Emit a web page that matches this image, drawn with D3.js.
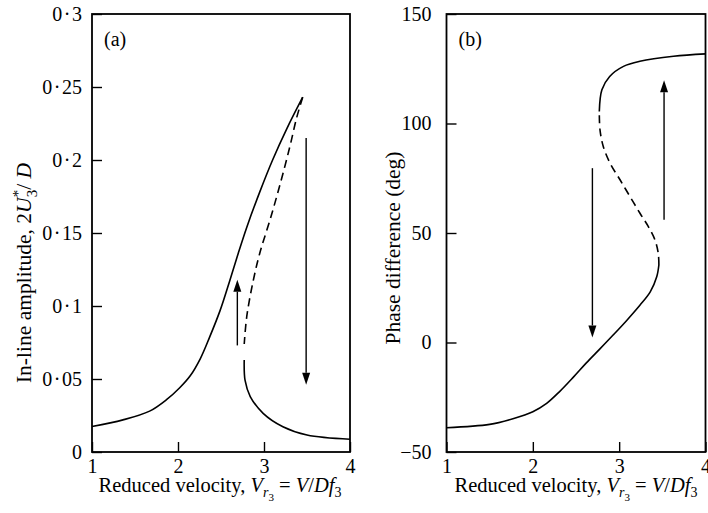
<!DOCTYPE html>
<html>
<head>
<meta charset="utf-8">
<script src="https://cdn.jsdelivr.net/npm/d3@7"></script>
<style>
  body { margin: 0; background: #fff; }
  svg { display: block; }
</style>
</head>
<body>
<script>
const width = 708;
const height = 513;
const fontFamily = "'Liberation Serif', 'Times New Roman', serif";

// x axis shared by both panels
const xTicks = [1, 2, 3, 4];
const xTickLabels = ["1", "2", "3", "4"];

// (a) in-line amplitude
const ampTicks = [0, 0.05, 0.1, 0.15, 0.2, 0.25, 0.3];
const ampTickLabels = ["0", "0·05", "0·1", "0·15", "0·2", "0·25", "0·3"];
const ampUpper = [[1.0, 0.0175], [1.36, 0.022], [1.67, 0.028], [1.87, 0.036], [2.02, 0.044],
  [2.14, 0.052], [2.26, 0.064], [2.37, 0.079], [2.49, 0.097], [2.6, 0.117], [2.7, 0.136],
  [2.8, 0.154], [2.95, 0.178], [3.1, 0.2], [3.27, 0.222], [3.45, 0.243]];
const ampUnstable = [[3.45, 0.243], [3.38, 0.229], [3.3, 0.209], [3.19, 0.184], [3.07, 0.159],
  [2.95, 0.136], [2.87, 0.116], [2.8, 0.093], [2.77, 0.074]];
const ampLower = [[2.77, 0.063], [2.78, 0.049], [2.84, 0.038], [2.99, 0.0265], [3.22, 0.0173],
  [3.5, 0.0116], [4.0, 0.0087]];
const ampArrows = [{ x: 2.69, from: 0.073, to: 0.118 }, { x: 3.49, from: 0.215, to: 0.046 }];

// (b) phase difference
const phaseTicks = [-50, 0, 50, 100, 150];
const phaseTickLabels = ["\u221250", "0", "50", "100", "150"];
const phaseLower = [[1.0, -38.9], [1.5, -37.4], [1.77, -34.8], [2.0, -31.6], [2.16, -27.8],
  [2.31, -22.4], [2.47, -15.8], [2.62, -9.3], [2.78, -2.8], [2.93, 3.4], [3.09, 10.2],
  [3.24, 17.0], [3.36, 23.1], [3.435, 30.0], [3.46, 35.4]];
const phaseUnstable = [[3.46, 35.4], [3.453, 40.7], [3.415, 46.8], [3.338, 52.9], [3.241, 59.0],
  [3.126, 66.6], [3.01, 74.3], [2.894, 81.9], [2.816, 89.5], [2.778, 97.1], [2.77, 104.8]];
const phaseUpper = [[2.77, 105.5], [2.8, 115.4], [2.89, 121.5], [3.05, 126.1], [3.24, 128.4],
  [3.63, 130.7], [4.0, 131.8]];
const phaseArrows = [{ x: 2.69, from: 79.6, to: 2.3 }, { x: 3.52, from: 56, to: 119.7 }];

const svg = d3.select("body").append("svg")
  .attr("width", width)
  .attr("height", height)
  .style("font-family", fontFamily);

function drawPanel(p) {
  const x = d3.scaleLinear().domain([1, 4]).range([p.left, p.right]);
  const y = d3.scaleLinear().domain(p.yDomain).range([p.bottom, p.top]);
  const g = svg.append("g");

  // inward ticks
  const xAxis = g.append("g")
    .attr("transform", `translate(0,${p.bottom})`)
    .call(d3.axisBottom(x).tickValues(xTicks).tickFormat((d, i) => xTickLabels[i])
      .tickSizeInner(-10).tickSizeOuter(0).tickPadding(7));
  const yAxis = g.append("g")
    .attr("transform", `translate(${p.left},0)`)
    .call(d3.axisLeft(y).tickValues(p.yTicks).tickFormat((d, i) => p.yLabels[i])
      .tickSizeInner(-10).tickSizeOuter(0).tickPadding(p.labelPad));

  [xAxis, yAxis].forEach(a => {
    a.select(".domain").remove();
    a.selectAll("line").attr("stroke", "#000").attr("stroke-width", 1.4);
    a.selectAll("text").attr("font-size", 20).attr("font-family", fontFamily).attr("fill", "#000");
  });

  // spread the middle dot a little, like the printed labels
  yAxis.selectAll("text").each(function () {
    const t = d3.select(this);
    const parts = t.text().split("·");
    if (parts.length === 2) {
      t.text(null);
      t.append("tspan").text(parts[0]);
      t.append("tspan").attr("dx", 1.5).text("·");
      t.append("tspan").attr("dx", 1.5).text(parts[1]);
    }
  });

  g.append("rect")
    .attr("x", p.left).attr("y", p.top)
    .attr("width", p.right - p.left).attr("height", p.bottom - p.top)
    .attr("fill", "none").attr("stroke", "#000").attr("stroke-width", 1.8);

  const line = d3.line()
    .x(d => x(d[0]))
    .y(d => y(d[1]))
    .curve(d3.curveCatmullRom.alpha(0.5));

  p.branches.forEach(b => {
    g.append("path")
      .attr("d", line(b.data))
      .attr("fill", "none")
      .attr("stroke", "#000")
      .attr("stroke-width", 1.6)
      .attr("stroke-dasharray", b.dashed ? "8,5" : null);
  });

  // arrows
  const headLen = 12, headHalf = 4;
  p.arrows.forEach(a => {
    const ax = x(a.x), y0 = y(a.from), y1 = y(a.to);
    const dir = y1 < y0 ? -1 : 1;
    g.append("line")
      .attr("x1", ax).attr("x2", ax)
      .attr("y1", y0).attr("y2", y1 - dir * headLen)
      .attr("stroke", "#000").attr("stroke-width", 1.4);
    g.append("path")
      .attr("d", `M${ax},${y1}L${ax - headHalf},${y1 - dir * headLen}L${ax + headHalf},${y1 - dir * headLen}Z`)
      .attr("fill", "#000");
  });

  g.append("text")
    .attr("x", p.left + 12).attr("y", p.top + 32)
    .attr("font-size", 20)
    .text(p.panelLabel);

  // x title
  const xt = g.append("text")
    .attr("x", p.xTitleX).attr("y", 492)
    .attr("text-anchor", "middle")
    .attr("font-size", 20.5);
  xt.append("tspan").text("Reduced velocity, ");
  xt.append("tspan").attr("font-style", "italic").text("V");
  xt.append("tspan").attr("font-style", "italic").attr("font-size", 14).attr("dy", 5).text("r");
  xt.append("tspan").attr("font-size", 11).attr("dy", 4).text("3");
  xt.append("tspan").attr("dy", -9).text(" = ");
  xt.append("tspan").attr("font-style", "italic").text("V");
  xt.append("tspan").text("/");
  xt.append("tspan").attr("font-style", "italic").text("Df");
  xt.append("tspan").attr("font-size", 14).attr("dy", 5).text("3");

  // y title
  const yt = g.append("text")
    .attr("transform", `translate(${p.yTitleX},${p.yTitleY}) rotate(-90)`)
    .attr("text-anchor", "middle")
    .attr("font-size", 21.5);
  p.yTitle(yt);
}

drawPanel({
  left: 92, right: 350, top: 14, bottom: 452,
  yDomain: [0, 0.3], yTicks: ampTicks, yLabels: ampTickLabels, labelPad: 10,
  branches: [
    { data: ampUpper, dashed: false },
    { data: ampUnstable, dashed: true },
    { data: ampLower, dashed: false }
  ],
  arrows: ampArrows,
  panelLabel: "(a)",
  xTitleX: 220,
  yTitleX: 31, yTitleY: 273,
  yTitle: t => {
    t.append("tspan").text("In-line amplitude, 2");
    t.append("tspan").attr("font-style", "italic").text("U");
    t.append("tspan").attr("font-size", 15).attr("dy", -8).text("*");
    t.append("tspan").attr("font-size", 15).attr("dx", -7.5).attr("dy", 14).text("3");
    t.append("tspan").attr("dy", -6).text("/ ");
    t.append("tspan").attr("font-style", "italic").text("D");
  }
});

drawPanel({
  left: 446.5, right: 705.5, top: 14, bottom: 452,
  yDomain: [-50, 150], yTicks: phaseTicks, yLabels: phaseTickLabels, labelPad: 15,
  branches: [
    { data: phaseLower, dashed: false },
    { data: phaseUnstable, dashed: true },
    { data: phaseUpper, dashed: false }
  ],
  arrows: phaseArrows,
  panelLabel: "(b)",
  xTitleX: 576,
  yTitleX: 400, yTitleY: 248,
  yTitle: t => {
    t.append("tspan").text("Phase difference (deg)");
  }
});
</script>
</body>
</html>
